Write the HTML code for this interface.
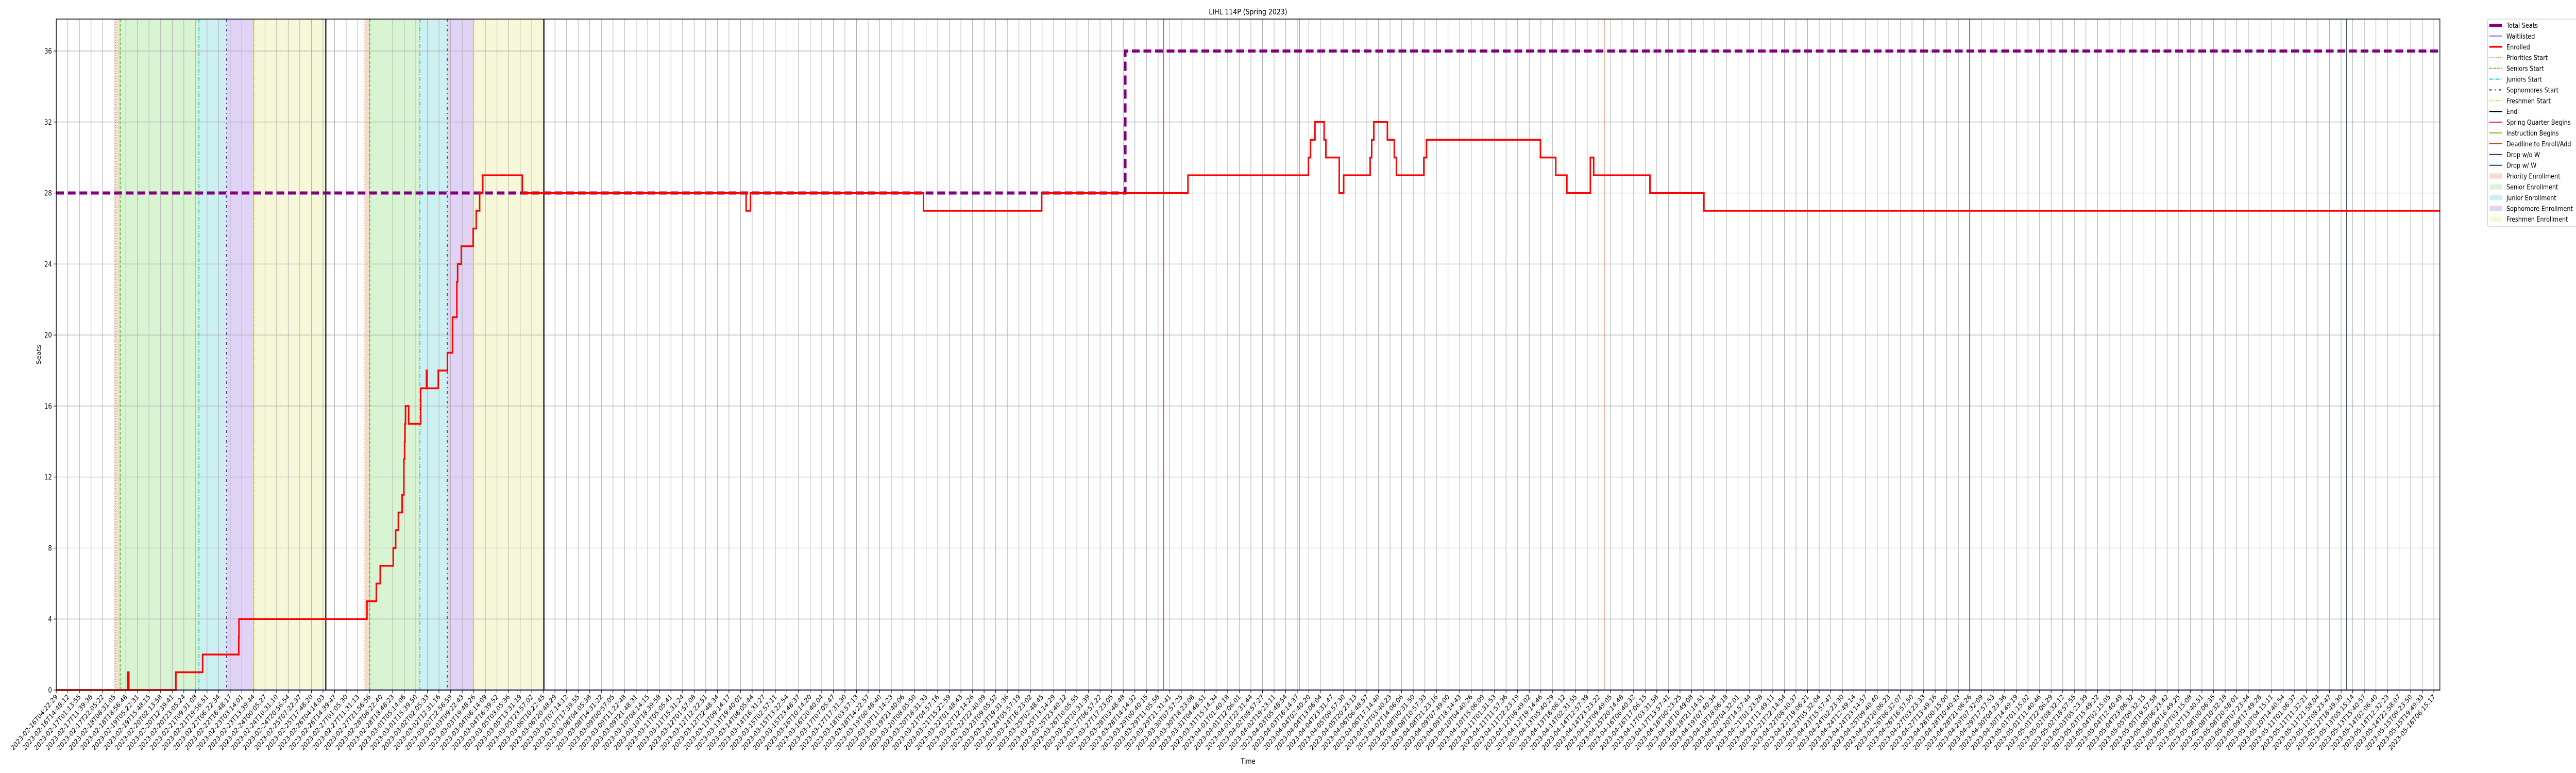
<!DOCTYPE html>
<html><head><meta charset="utf-8"><style>
html,body{margin:0;padding:0;background:#fff;width:100%;height:100%;overflow:hidden;}
svg{display:block;font-family:"DejaVu Sans","Liberation Sans",sans-serif;overflow:hidden;width:100vw;height:100vh;}
</style></head><body>
<svg id="chart" viewBox="0 0 6000 1500" preserveAspectRatio="none" xmlns="http://www.w3.org/2000/svg">
<defs><clipPath id="frameclip"><rect x="0" y="0" width="6000" height="1500"/></clipPath><clipPath id="legclip"><rect x="5790" y="30" width="210" height="420"/></clipPath></defs>
<g clip-path="url(#frameclip)">
<text x="2907" y="28" font-size="15" text-anchor="middle">LIHL 114P (Spring 2023)</text>
<text x="0" y="0" font-size="14" text-anchor="middle" transform="translate(95,688) rotate(-90)">Seats</text>
<text x="2907" y="1482" font-size="14" text-anchor="middle">Time</text>
<g id="plot"></g>
</g>
</svg>
<script>
// ---- data (hours since 2023-02-16T04:22:29) ----
const enrolledHours = [0,64.27,65.24,107.58,131.6,164.1,164.3,279.4,287.8,291.3,303.0,305.2,307.6,311.0,312.6,313.2,313.6,314.1,316.9,327.7,332.9,333.4,343.5,351.7,356.3,360.2,360.9,364.2,374.9,377.6,380.7,383.5,419.0,620.3,624.2,779.8,886.1,1017.6,1125.9,1127.8,1131.8,1140.0,1141.6,1153.6,1157.6,1181.4,1182.8,1184.7,1196.9,1203.1,1205.0,1229.7,1232.1,1334.5,1348.3,1358.3,1379.4,1382.4,1433.0,1481.5];
const enrolledValues = [0,1,0,1,2,3,4,5,6,7,8,9,10,11,13,14,15,16,15,17,18,17,18,19,21,23,24,25,26,27,28,29,28,27,28,27,28,29,30,31,32,31,30,28,29,30,31,32,31,30,29,30,31,30,29,28,30,29,28,27];
const seatHours = [0,961.2];
const seatValues = [28,36];
const waitHours = [0];
const waitValues = [0];
const prioritiesStart = [53.4,277.5];
const seniorsStart = [57.5,281.9];
const juniorsStart = [128.3,327.0];
const sophomoresStart = [153.2,351.6];
const freshmenStart = [177.9,374.9];
const endTimes = [242.4,438.5];
const springQuarterBegins = [995.8];
const instructionBegins = [1117.8];
const deadlineEnroll = [1391.8];
const dropNoW = [1720.5];
const dropW = [2059.4];
const yTicks = [0,4,8,12,16,20,24,28,32,36];
const tickCount = 206;
const tickSpanHours = 2137.88;

// ---- axes ----
const L=131,R=5683,T=37,B=1339,XMAX_H=(R-L)/5538*tickSpanHours,YMAX=37.8;
function xs(h){return L+h/XMAX_H*(R-L);}
function ys(v){return B-v/YMAX*(B-T);}
const NS="http://www.w3.org/2000/svg";
const plot=document.getElementById('plot');
function mk(tag,attrs,parent){const e=document.createElementNS(NS,tag);for(const k in attrs)e.setAttribute(k,attrs[k]);(parent||plot).appendChild(e);return e;}

const shades=[[prioritiesStart,seniorsStart,'#f6dccd','priority-enrollment-band'],[seniorsStart,juniorsStart,'#d9f4d3','senior-enrollment-band'],[juniorsStart,sophomoresStart,'#cdf0f2','junior-enrollment-band'],[sophomoresStart,freshmenStart,'#e1d3f5','sophomore-enrollment-band'],[freshmenStart,endTimes,'#f6f8d9','freshman-enrollment-band']];
shades.forEach(s=>{for(let i=0;i<s[0].length;i++){const r=mk('rect',{x:xs(s[0][i]),y:T,width:xs(s[1][i])-xs(s[0][i]),height:B-T,fill:s[2]});

}});

const t0=Date.UTC(2023,1,16,4,22,29);
function p2(n){return (n<10?'0':'')+n;}
for(let i=0;i<tickCount;i++){
  const h=i*tickSpanHours/(tickCount-1);const x=xs(h);
  const g=mk('line',{x1:x,x2:x,y1:T,y2:B,stroke:'#b0b0b0','stroke-width':1.2});
  
  
  mk('line',{x1:x,x2:x,y1:B,y2:B+6,stroke:'#000','stroke-width':1.2});
  const d=new Date(t0+h*3600000);
  const lab=d.getUTCFullYear()+'-'+p2(d.getUTCMonth()+1)+'-'+p2(d.getUTCDate())+'T'+p2(d.getUTCHours())+':'+p2(d.getUTCMinutes())+':'+p2(d.getUTCSeconds());
  const t=mk('text',{x:0,y:0,'font-size':13.5,'text-anchor':'end',transform:'translate('+(x+4)+','+(B+14)+') rotate(-45)'});
  t.textContent=lab;
  
  
}
yTicks.forEach(v=>{const y=ys(v);
  const g=mk('line',{x1:L,x2:R,y1:y,y2:y,stroke:'#b0b0b0','stroke-width':1.2});
  
  
  mk('line',{x1:L-6,x2:L,y1:y,y2:y,stroke:'#000','stroke-width':1.2});
  const t=mk('text',{x:L-10,y:y+5,'font-size':14,'text-anchor':'end'});t.textContent=v;
  
  
});

const vlines=[[prioritiesStart,'#f07030','2,3',1.5,'priorities-start-line'],[seniorsStart,'#44cc22','6,3',2,'seniors-start-line'],[juniorsStart,'#1ac0d0','8,3,2,3',2,'juniors-start-line'],[sophomoresStart,'#6a2fd0','5,6,2,6',2.5,'sophomores-start-line'],[freshmenStart,'#dede33','6,2,2,2,2,2',2,'freshmen-start-line'],[endTimes,'#000','',2.5,'end-line'],[springQuarterBegins,'#e0109a','',1.5,'spring-quarter-begins-line'],[instructionBegins,'#8ab020','',1.5,'instruction-begins-line'],[deadlineEnroll,'#c84020','',1.5,'deadline-enroll-line'],[dropNoW,'#2e2a80','',1.5,'drop-without-w-line'],[dropW,'#2c3a5a','',1.5,'drop-with-w-line']];
vlines.forEach(v=>{v[0].forEach(h=>{const x=xs(h);const a={x1:x,x2:x,y1:T,y2:B,stroke:v[1],'stroke-width':v[3]};if(v[2])a['stroke-dasharray']=v[2];const l=mk('line',a);

});});

function stepPath(hs,vs){let d='M'+xs(hs[0])+','+ys(vs[0]);for(let i=1;i<hs.length;i++){d+=' H'+xs(hs[i])+' V'+ys(vs[i]);}d+=' H'+R;return d;}
const wl=mk('path',{d:stepPath(waitHours,waitValues),fill:'none',stroke:'#3030ff','stroke-width':2});


const sl=mk('path',{d:stepPath(seatHours,seatValues),fill:'none',stroke:'#800080','stroke-width':6,'stroke-dasharray':'18,9'});


const el=mk('path',{d:stepPath(enrolledHours,enrolledValues),fill:'none',stroke:'#ff0000','stroke-width':3.5});



mk('rect',{x:L,y:T,width:R-L,height:B-T,fill:'none',stroke:'#000','stroke-width':1.5});

const lg=mk('g',{'clip-path':'url(#legclip)'});


mk('rect',{x:5794,y:37,width:212,height:402,rx:3,fill:'#fff',stroke:'#cccccc','stroke-width':1.2},lg);
const items=[['Total Seats','line','#800080','',6],['Waitlisted','line','#3030ff','',1.5],['Enrolled','line','#ff0000','',3.5],['Priorities Start','line','#f07030','2,3',2],['Seniors Start','line','#44cc22','6,3',2],['Juniors Start','line','#1ac0d0','8,3,2,3',2],['Sophomores Start','line','#6a2fd0','5,8,2,8',2.5],['Freshmen Start','line','#dede33','6,2,2,2,2,2',2],['End','line','#000','',2.5],['Spring Quarter Begins','line','#e0109a','',2],['Instruction Begins','line','#8ab020','',2],['Deadline to Enroll/Add','line','#c84020','',2],['Drop w/o W','line','#2e2a80','',2],['Drop w/ W','line','#2c3a5a','',2],['Priority Enrollment','box','#f6dccd'],['Senior Enrollment','box','#d9f4d3'],['Junior Enrollment','box','#cdf0f2'],['Sophomore Enrollment','box','#e1d3f5'],['Freshmen Enrollment','box','#f6f8d9']];
items.forEach((it,i)=>{const y=49+i*20.9;
  if(it[1]==='line'){const a={x1:5798,x2:5828,y1:y,y2:y,stroke:it[2],'stroke-width':it[4]};if(it[3])a['stroke-dasharray']=it[3];mk('line',a,lg);}
  else{mk('rect',{x:5799,y:y-5,width:29,height:10,fill:it[2]},lg);}
  const t=mk('text',{x:5838,y:y+5,'font-size':13.5},lg);t.textContent=it[0];
  
  
});
</script>
</body></html>
